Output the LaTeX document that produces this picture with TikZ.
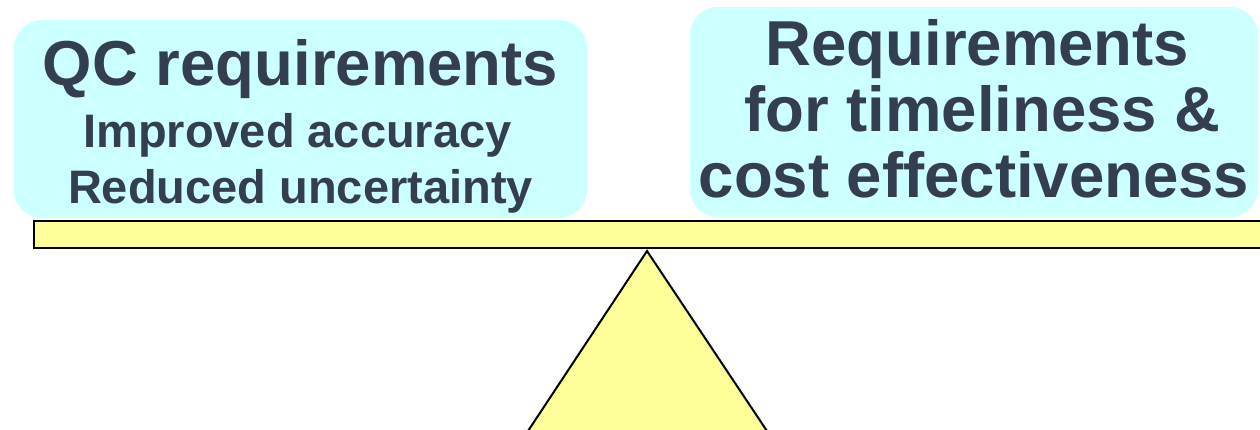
\documentclass[tikz,border=0pt]{standalone}
\usepackage{fontspec}
\setmainfont{Liberation Sans}
\definecolor{boxcyan}{RGB}{204,255,255}
\definecolor{beamyellow}{RGB}{255,255,153}
\definecolor{inkblue}{RGB}{51,62,80}
\tikzset{
  reqbox/.style={rectangle, rounded corners=28pt, fill=boxcyan, draw=none, inner sep=0pt},
  bigtext/.style={anchor=base, inner sep=0pt, text=inkblue, font=\bfseries\fontsize{63.5}{63.5}\selectfont},
  smalltext/.style={anchor=base, inner sep=0pt, text=inkblue, font=\bfseries\fontsize{47}{47}\selectfont},
  beamstyle/.style={fill=beamyellow, draw=black, line width=2pt},
}
\begin{document}
\begin{tikzpicture}[x=1pt,y=-1pt]
  \useasboundingbox (0,0) rectangle (1260,429);
  \clip (0,0) rectangle (1260,429);
  % pivot and beam
  \coordinate (apex) at (647,251);
  \coordinate (baseL) at (528,431);
  \coordinate (baseR) at (767,431);
  \filldraw[beamstyle, line join=miter] (apex) -- (baseL) -- (baseR) -- cycle;
  \node[beamstyle, rectangle, inner sep=0pt, minimum width=1240pt, minimum height=27pt, anchor=north west] (beam) at (33,219.5) {};
  % left pan: quality control
  \node[reqbox, minimum width=573pt, minimum height=198pt] (qcbox) at (300.5,119) {};
  \node[bigtext] (qc) at (300.5,85) {QC requirements};
  \node[smalltext] (acc) at (297.5,147) {Improved accuracy};
  \node[smalltext] (unc) at (300.5,203) {Reduced uncertainty};
  % right pan: timeliness and cost
  \node[reqbox, minimum width=568pt, minimum height=210pt] (tcbox) at (974,112) {};
  \node[bigtext] (req) at (977.5,65) {Requirements};
  \node[bigtext] (time) at (982.5,131) {for timeliness \&};
  \node[bigtext] (cost) at (974,197) {cost effectiveness};
\end{tikzpicture}
\end{document}
